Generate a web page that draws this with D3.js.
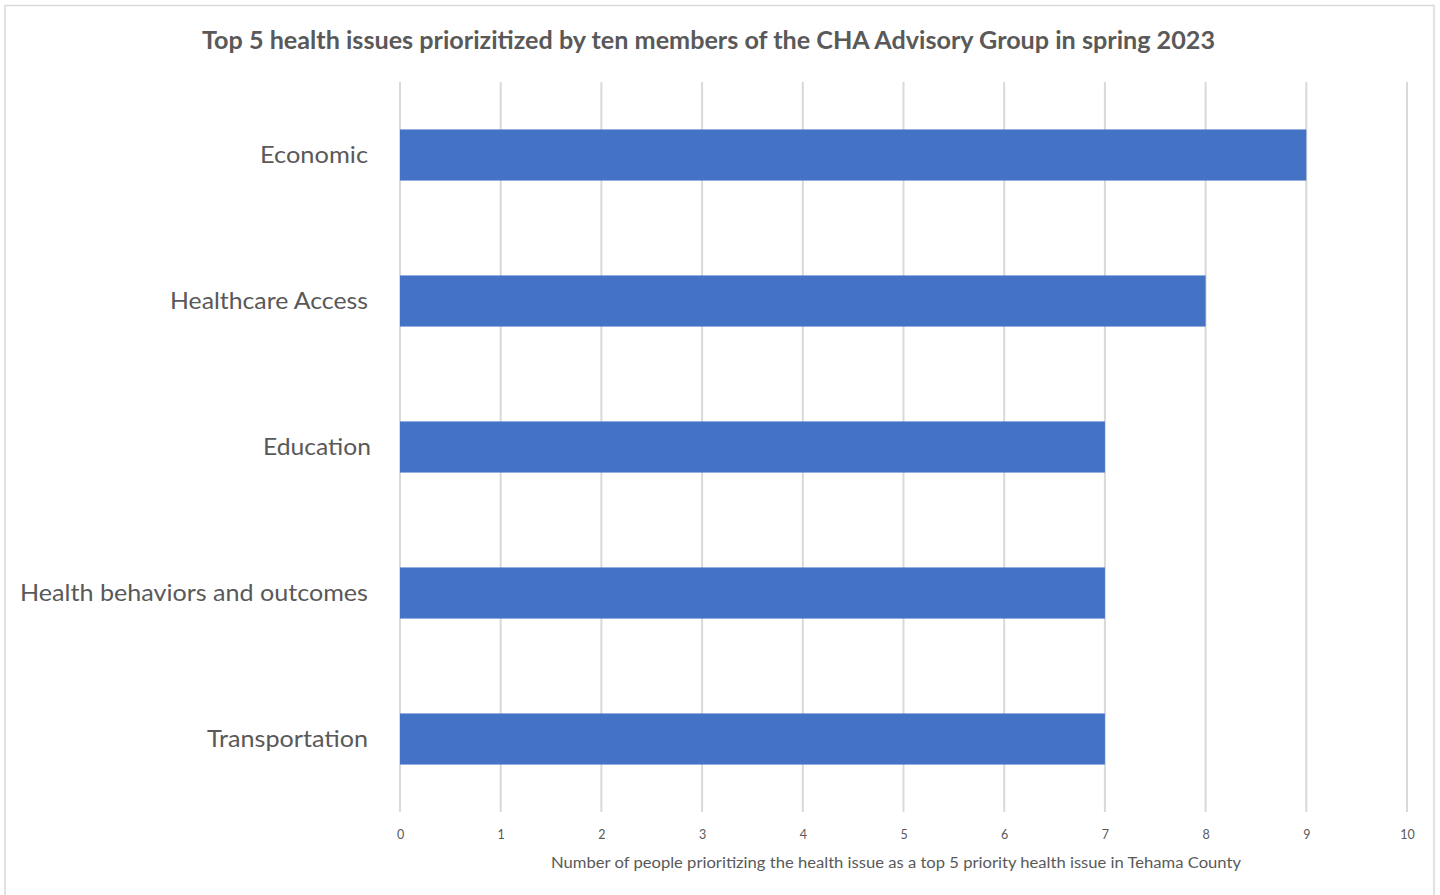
<!DOCTYPE html>
<html>
<head>
<meta charset="utf-8">
<script src="https://cdn.jsdelivr.net/npm/d3@7"></script>
<style>
  html, body { margin: 0; padding: 0; background: #fff; }
  svg { display: block; }
</style>
</head>
<body>
<svg id="chart" width="1440" height="895"></svg>
<script>
// Health issues ranked by how many advisory group members prioritized them
const categories = ["Economic", "Healthcare Access", "Education", "Health behaviors and outcomes", "Transportation"];
const values = [9, 8, 7, 7, 7];
const tickValues = [0, 1, 2, 3, 4, 5, 6, 7, 8, 9, 10];
const titleText = "Top 5 health issues priorizitized by ten members of the CHA Advisory Group in spring 2023";
const axisTitleText = "Number of people prioritizing the health issue as a top 5 priority health issue in Tehama County";

const svg = d3.select("#chart");
const font = "Lato, 'Open Sans', sans-serif";
const textColor = "#595959";

// chart frame
svg.append("rect")
  .attr("x", 5).attr("y", 5.5)
  .attr("width", 1429).attr("height", 900)
  .attr("fill", "#fff")
  .attr("stroke", "#d9d9d9").attr("stroke-width", 1.5);

const plot = { left: 400, right: 1407, top: 82, bottom: 812 };

const x = d3.scaleLinear().domain([0, 10]).range([plot.left, plot.right]);
const y = d3.scaleBand().domain(categories).range([plot.top, plot.bottom]).paddingInner(0.65).paddingOuter(0.325);

// vertical gridlines
svg.append("g")
  .selectAll("line")
  .data(tickValues)
  .join("line")
  .attr("x1", d => x(d)).attr("x2", d => x(d))
  .attr("y1", plot.top).attr("y2", plot.bottom)
  .attr("stroke", "#d9d9d9").attr("stroke-width", 2);

// bars
svg.append("g")
  .selectAll("rect")
  .data(categories)
  .join("rect")
  .attr("x", x(0))
  .attr("y", d => y(d))
  .attr("width", (d, i) => x(values[i]) - x(0))
  .attr("height", y.bandwidth())
  .attr("fill", "#4472C4");

// x axis tick labels
const xAxis = d3.axisBottom(x).tickValues(tickValues).tickSize(0).tickPadding(0).tickFormat(d3.format("d"));
const gx = svg.append("g").attr("transform", `translate(0,${plot.bottom + 18})`).call(xAxis);
gx.select(".domain").remove();
gx.selectAll("text")
  .attr("font-family", font).attr("font-size", 12.5).attr("fill", textColor);

// category labels
const yAxis = d3.axisLeft(y).tickSize(0).tickPadding(0);
const gy = svg.append("g").attr("transform", `translate(368,0)`).call(yAxis);
gy.select(".domain").remove();
const labelWidths = { "Economic": 108, "Healthcare Access": 198, "Education": 108, "Health behaviors and outcomes": 348, "Transportation": 161 };
gy.selectAll("text")
  .attr("font-family", font).attr("font-size", 23).attr("fill", textColor)
  .attr("dy", "0.35em")
  .attr("textLength", d => labelWidths[d]).attr("lengthAdjust", "spacingAndGlyphs");
gy.selectAll(".tick").filter(d => d === "Education").select("text").attr("x", 3);

// chart title
svg.append("text")
  .attr("x", 708.5).attr("y", 49)
  .attr("text-anchor", "middle")
  .attr("font-family", font).attr("font-size", 24).attr("font-weight", "bold")
  .attr("fill", textColor)
  .attr("textLength", 1013).attr("lengthAdjust", "spacingAndGlyphs")
  .text(titleText);

// axis title
svg.append("text")
  .attr("x", 896).attr("y", 868)
  .attr("text-anchor", "middle")
  .attr("font-family", font).attr("font-size", 15.5)
  .attr("fill", textColor)
  .attr("textLength", 690).attr("lengthAdjust", "spacingAndGlyphs")
  .text(axisTitleText);
</script>
</body>
</html>
